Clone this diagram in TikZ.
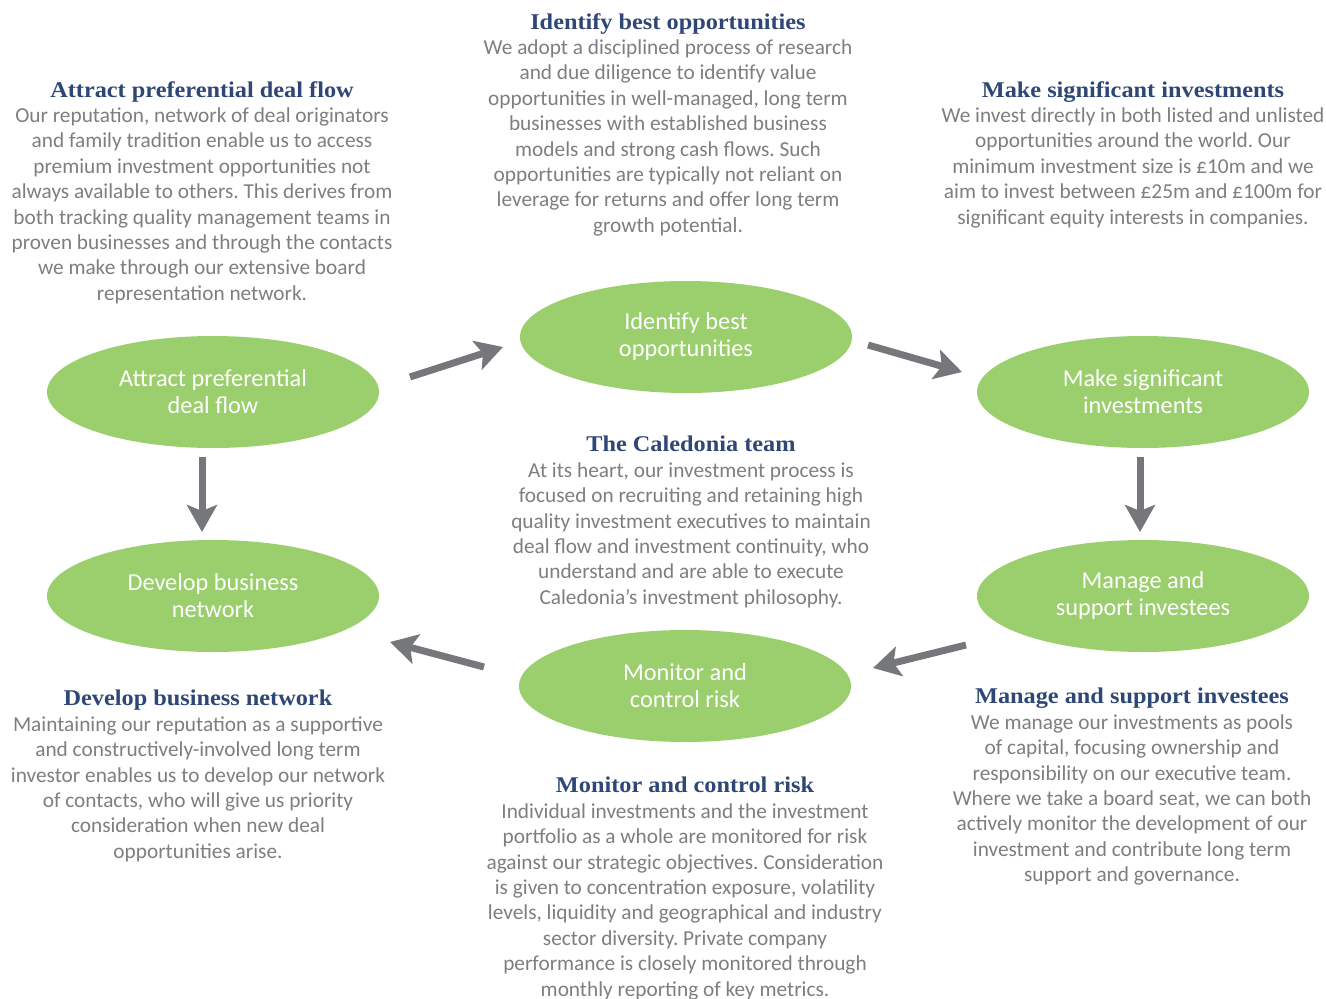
\documentclass[tikz,border=0pt]{standalone}
\usepackage{fontspec}
\setmainfont{Carlito}
\newfontfamily\headfont[FakeStretch=1.08]{Liberation Serif}
\usetikzlibrary{shapes.geometric,arrows.meta}
\definecolor{leaf}{HTML}{9BCF6E}
\definecolor{headblue}{HTML}{2E4775}
\definecolor{bodygray}{HTML}{7D7E81}
\definecolor{arrowgray}{HTML}{76777A}
\frenchspacing
\tikzset{
  stage/.style={ellipse, fill=leaf, draw=none, minimum width=332pt, minimum height=112pt,
    inner sep=0pt, align=center, text=white, font=\fontsize{24.3}{27}\selectfont},
  textblock/.style={anchor=north, inner sep=0pt, align=center, text=bodygray,
    font=\fontsize{21.3}{25.4}\selectfont},
  flow/.style={draw=arrowgray, line width=7pt,
    -{Stealth[length=27pt,width=30pt,inset=6pt]}},
}
\newcommand{\blockhead}[1]{{\headfont\bfseries\fontsize{22.5}{25.4}\selectfont\color{headblue}#1}}
\begin{document}
\begin{tikzpicture}[x=1pt,y=-1pt]
\useasboundingbox (0,0) rectangle (1326,999);

% process stages
\node[stage] (attract)  at (213,392) {Attract preferential\\deal flow};
\node[stage] (identify) at (686,337) {Identify best\\opportunities};
\node[stage] (make)     at (1143,392) {Make significant\\investments};
\node[stage] (develop)  at (213,596) {Develop business\\network};
\node[stage] (manage)   at (1143,596) {Manage and\\support investees};
\node[stage] (monitor)  at (685,686) {Monitor and\\control risk};

% arrow ends
\coordinate (ai0) at (410,377);  \coordinate (ai1) at (503,347);
\coordinate (im0) at (868,345);  \coordinate (im1) at (962,372);
\coordinate (mm0) at (1140,457); \coordinate (mm1) at (1140,532);
\coordinate (mo0) at (966,645);  \coordinate (mo1) at (873,668);
\coordinate (od0) at (484,667);  \coordinate (od1) at (390,642);
\coordinate (ad0) at (202,457);  \coordinate (ad1) at (202,532);

\draw[flow] (ai0) -- (ai1);
\draw[flow] (im0) -- (im1);
\draw[flow] (mm0) -- (mm1);
\draw[flow] (mo0) -- (mo1);
\draw[flow] (od0) -- (od1);
\draw[flow] (ad0) -- (ad1);

% descriptions
\node[textblock] (tidentify) at (668,13) {\blockhead{Identify best opportunities}\\
We adopt a disciplined process of research\\
and due diligence to identify value\\
opportunities in well-managed, long term\\
businesses with established business\\
models and strong cash flows. Such\\
opportunities are typically not reliant on\\
leverage for returns and offer long term\\
growth potential.};

\node[textblock] (tattract) at (202,81) {\blockhead{Attract preferential deal flow}\\
Our reputation, network of deal originators\\
and family tradition enable us to access\\
premium investment opportunities not\\
always available to others. This derives from\\
both tracking quality management teams in\\
proven businesses and through the contacts\\
we make through our extensive board\\
representation network.};

\node[textblock] (tmake) at (1133,81) {\blockhead{Make significant investments}\\
We invest directly in both listed and unlisted\\
opportunities around the world. Our\\
minimum investment size is £10m and we\\
aim to invest between £25m and £100m for\\
significant equity interests in companies.};

\node[textblock] (tteam) at (691,436) {\blockhead{The Caledonia team}\\
At its heart, our investment process is\\
focused on recruiting and retaining high\\
quality investment executives to maintain\\
deal flow and investment continuity, who\\
understand and are able to execute\\
Caledonia’s investment philosophy.};

\node[textblock] (tdevelop) at (198,690) {\blockhead{Develop business network}\\
Maintaining our reputation as a supportive\\
and constructively-involved long term\\
investor enables us to develop our network\\
of contacts, who will give us priority\\
consideration when new deal\\
opportunities arise.};

\node[textblock] (tmanage) at (1132,688) {\blockhead{Manage and support investees}\\
We manage our investments as pools\\
of capital, focusing ownership and\\
responsibility on our executive team.\\
Where we take a board seat, we can both\\
actively monitor the development of our\\
investment and contribute long term\\
support and governance.};

\node[textblock] (tmonitor) at (685,777) {\blockhead{Monitor and control risk}\\
Individual investments and the investment\\
portfolio as a whole are monitored for risk\\
against our strategic objectives. Consideration\\
is given to concentration exposure, volatility\\
levels, liquidity and geographical and industry\\
sector diversity. Private company\\
performance is closely monitored through\\
monthly reporting of key metrics.};
\end{tikzpicture}
\end{document}
